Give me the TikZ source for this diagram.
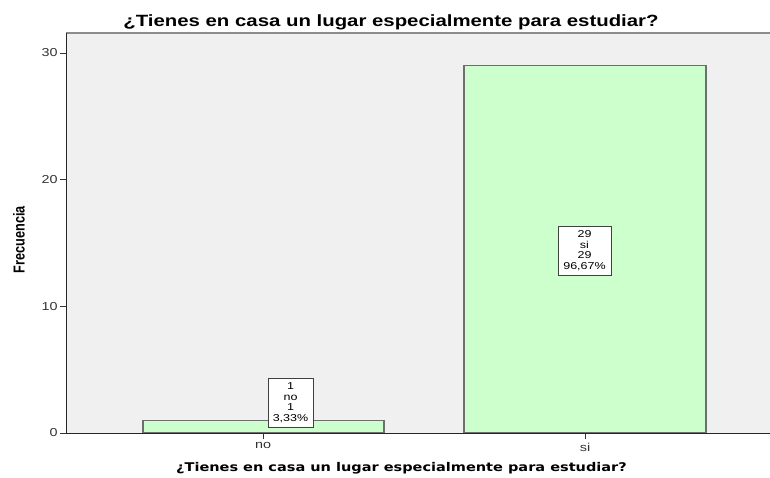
\documentclass[tikz,border=0pt]{standalone}
\usepackage{fontspec}
\setmainfont{Liberation Sans}
\newfontfamily\anchafont{DejaVu Sans}
\usetikzlibrary{positioning}
\definecolor{fondo}{HTML}{F0F0F0}
\definecolor{barra}{HTML}{CCFFCC}
\definecolor{borde}{HTML}{6E6E6E}

\begin{document}
\begin{tikzpicture}[x=1pt, y=-1pt,
            barstyle/.style={draw = borde, fill = barra, line width=1.2pt},
            tickstyle/.style={draw = black!80, line width=0.8pt},
            ticklabel/.style={font=\fontsize{11.5}{12}\selectfont, text = black!80, inner sep=1pt, xscale=1.25},
            etiqueta/.style={draw = black!75, fill = white, line width=0.8pt, align=center, inner sep=1pt,
                font=\fontsize{10}{10.5}\selectfont, xscale=1.25}]
        \useasboundingbox (0,0) rectangle (770,478);
        \tikzstyle{every node}=[text = black]
        % area del grafico
        \fill[fondo] (66,33) rectangle (770,433);
        \draw[draw = black!45, line width=1.2pt] (66,33) -- (770,33);
        % barras
        \draw[barstyle] (143,433) rectangle (384,420.3);
        \draw[barstyle] (464,433) rectangle (706,65.6);
        % ejes
        \draw[black!85, line width=1pt] (66,33) -- (66,433) -- (770,433);
        \foreach \v/\py in {0/433, 10/306.3, 20/179.7, 30/53} {
            \draw[tickstyle] (60,\py) -- (66,\py);
            \node[ticklabel, anchor=east] (y\v) at (59,\py) {\v};
        }
        \draw[tickstyle] (263,433) -- (263,439);
        \draw[tickstyle] (585,433) -- (585,439);
        \node[ticklabel, anchor=north] (xno) at (263,441.5) {no};
        \node[ticklabel, anchor=north] (xsi) at (585,441.5) {si};
        % etiquetas de las barras
        \node[etiqueta, minimum width=36pt, minimum height=49pt] (lblno) at (290.5,402.5) {1\\no\\1\\3,33\%};
        \node[etiqueta, minimum width=42.4pt, minimum height=49pt] (lblsi) at (584.5,250.5) {29\\si\\29\\96,67\%};
        % titulos
        \node[font=\bfseries\fontsize{16.3}{18}\selectfont, xscale=1.25, anchor=base] (titulo) at (391,26.5) {¿Tienes en casa un lugar especialmente para estudiar?};
        \node[font=\anchafont\bfseries\fontsize{12}{14}\selectfont, xscale=1.21, anchor=base] (ejex) at (401.5,471) {¿Tienes en casa un lugar especialmente para estudiar?};
        \node[font=\bfseries\fontsize{12.7}{14}\selectfont, rotate=90, yscale=1.25] (ejey) at (19,239.5) {Frecuencia};
    \end{tikzpicture}
\end{document}
